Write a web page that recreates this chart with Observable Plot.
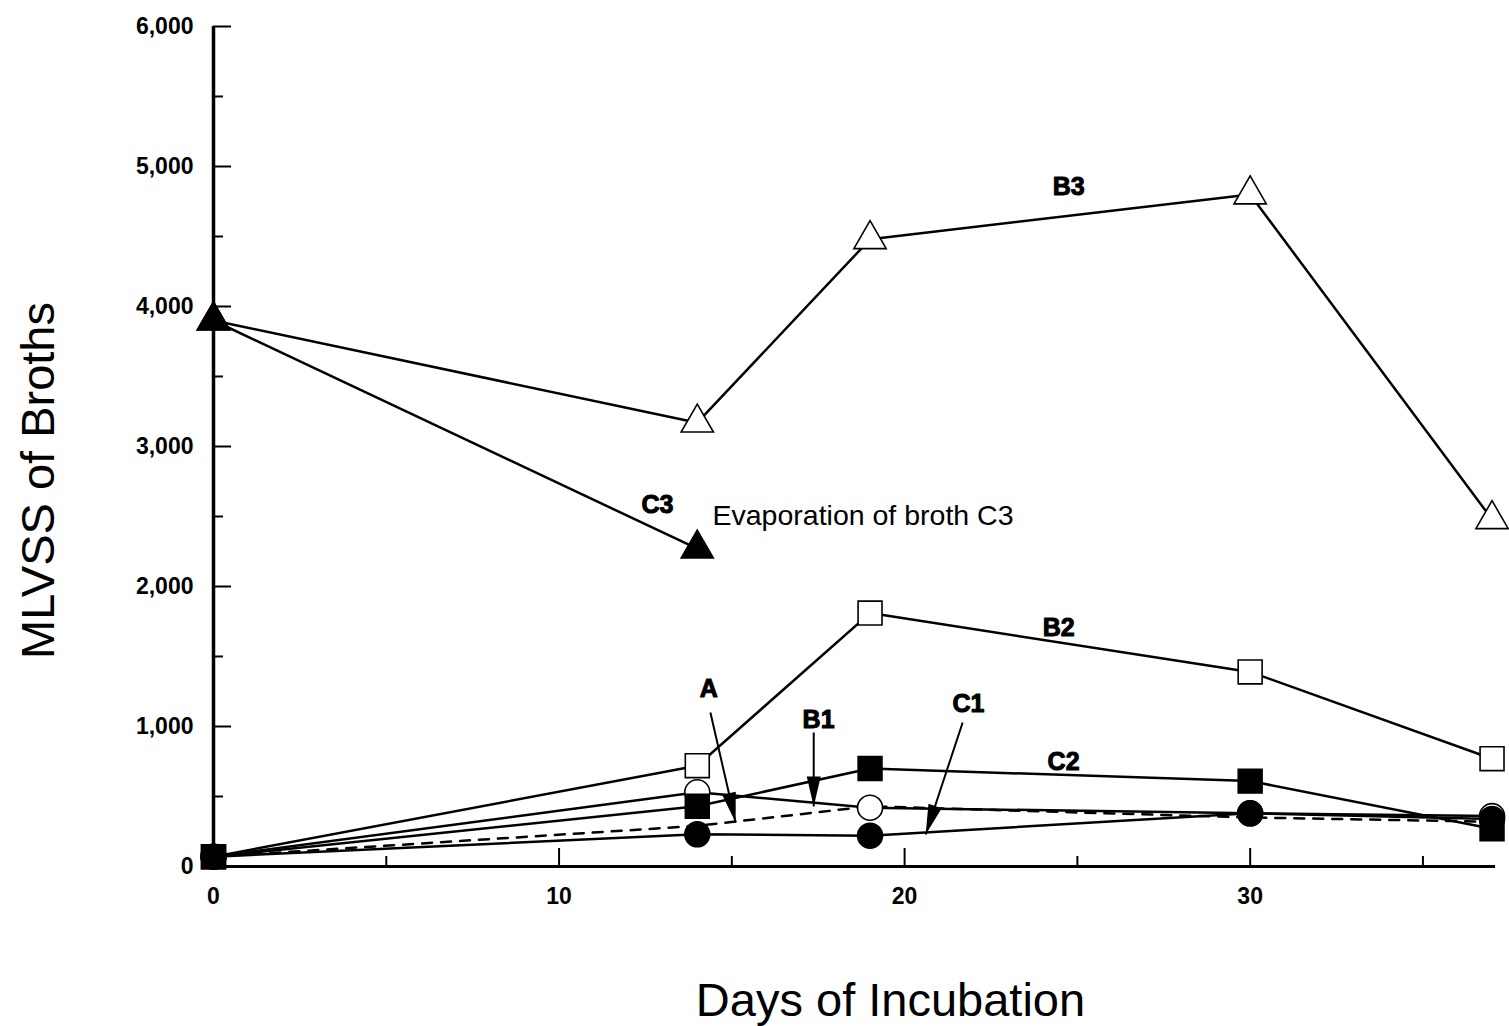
<!DOCTYPE html>
<html>
<head>
<meta charset="utf-8">
<script src="https://cdn.jsdelivr.net/npm/d3@7"></script>
<script src="https://cdn.jsdelivr.net/npm/@observablehq/plot@0.6"></script>
<style>
  html, body { margin: 0; padding: 0; background: #fff; }
  #chart { width: 1509px; height: 1026px; }
</style>
</head>
<body>
<div id="chart"></div>
<script>
// ---- Data ----
const days = [0, 14, 19, 30, 37];
const seriesB3 = [3900, 3170, 4480, 4800, 2480];   // open triangles
const daysC3 = [0, 14];
const seriesC3 = [3900, 2270];                     // filled triangles
const seriesB2 = [70, 720, 1810, 1390, 770];       // open squares
const seriesC2 = [70, 430, 700, 610, 270];         // filled squares
const seriesB1 = [70, 530, 420, 380, 360];         // open circles
const seriesC1 = [70, 230, 220, 380, 340];         // filled circles
const seriesA  = [70, 290, 430, 350, 320];         // dashed line

const yMajorTicks = [0, 1000, 2000, 3000, 4000, 5000, 6000];
const yMinorTicks = [500, 1500, 2500, 3500, 4500, 5500];
const xMajorTicks = [0, 10, 20, 30];
const xMinorTicks = [5, 15, 25, 35];

const xTitle = "Days of Incubation";
const yTitle = "MLVSS of Broths";

// series labels (data coordinates)
const labelText = ["B3", "C3", "B2", "A", "B1", "C1", "C2"];
const labelDay  = [24.75, 12.85, 24.46, 14.33, 17.51, 21.85, 24.6];
const labelVal  = [4857, 2579, 1707, 1271, 1043, 1164, 743];

const noteText = ["Evaporation of broth C3"];
const noteDay = [14.44];
const noteVal = [2507];

// arrows (data coordinates): start -> tip
const arrowName = ["A", "B1", "C1"];
const arrowDay1 = [14.38, 17.37, 21.68];
const arrowVal1 = [1100, 957, 1029];
const arrowDay2 = [15.11, 17.37, 20.61];
const arrowVal2 = [314, 429, 229];

// ---- Build tables ----
const rows = (name, xs, ys) => xs.map((d, i) => ({series: name, day: d, value: ys[i]}));
const B3 = rows("B3", days, seriesB3);
const C3 = rows("C3", daysC3, seriesC3);
const B2 = rows("B2", days, seriesB2);
const C2 = rows("C2", days, seriesC2);
const B1 = rows("B1", days, seriesB1);
const C1 = rows("C1", days, seriesC1);
const A  = rows("A", days, seriesA);
const solid = [...B3, ...C3, ...B2, ...C2, ...B1, ...C1];

const labels = labelText.map((t, i) => ({text: t, day: labelDay[i], value: labelVal[i]}));
const notes = noteText.map((t, i) => ({text: t, day: noteDay[i], value: noteVal[i]}));

const W = 1509, H = 1026;
const mL = 213, mR = 14, mT = 26, mB = 160;
const xMax = 37.1, yMax = 6000;
const kx = (W - mL - mR) / xMax, ky = (H - mT - mB) / yMax;

const arrows = arrowName.map((n, i) => {
  const dx = (arrowDay2[i] - arrowDay1[i]) * kx;
  const dy = -(arrowVal2[i] - arrowVal1[i]) * ky;
  return {name: n, x1: arrowDay1[i], y1: arrowVal1[i], x2: arrowDay2[i], y2: arrowVal2[i],
          angle: Math.atan2(-dx, dy) * 180 / Math.PI};
});

// narrow filled arrow head, tip at origin pointing down
const headSymbol = {
  draw(ctx) {
    ctx.moveTo(0, 0);
    ctx.lineTo(-7, -30);
    ctx.lineTo(7, -30);
    ctx.closePath();
  }
};

const font = "'Liberation Sans', Arial, Helvetica, sans-serif";

const chart = Plot.plot({
  width: W,
  height: H,
  marginLeft: mL,
  marginRight: mR,
  marginTop: mT,
  marginBottom: mB,
  style: {fontFamily: font, fontSize: "23px", background: "#fff", color: "#000", overflow: "visible"},
  x: {domain: [0, xMax]},
  y: {domain: [0, yMax]},
  marks: [
    // axes
    Plot.axisY(yMajorTicks, {tickSize: -18, tickPadding: 38, tickFormat: d3.format(","), fontSize: 23, fontWeight: "bold", strokeWidth: 2, label: null}),
    Plot.axisY(yMinorTicks, {tickSize: -10, tickFormat: () => "", strokeWidth: 2, label: null}),
    Plot.axisX(xMajorTicks, {tickSize: -18, tickPadding: 39, fontSize: 23, fontWeight: "bold", strokeWidth: 2, label: null}),
    Plot.axisX(xMinorTicks, {tickSize: -10, tickFormat: () => "", strokeWidth: 2, label: null}),
    Plot.ruleX([0], {stroke: "#000", strokeWidth: 3.5}),
    Plot.ruleY([0], {stroke: "#000", strokeWidth: 3}),
    // lines
    Plot.line(A, {x: "day", y: "value", stroke: "#000", strokeWidth: 2.5, strokeDasharray: "10,9"}),
    Plot.line(solid, {x: "day", y: "value", z: "series", stroke: "#000", strokeWidth: 2.5}),
    // markers
    Plot.dot(B1, {x: "day", y: "value", r: 12.5, fill: "#fff", stroke: "#000", strokeWidth: 1.6}),
    Plot.dot(C1, {x: "day", y: "value", r: 12.5, fill: "#000", stroke: "#000"}),
    Plot.dot(B2, {x: "day", y: "value", symbol: "square", r: 13.5, fill: "#fff", stroke: "#000", strokeWidth: 1.6}),
    Plot.dot(C2, {x: "day", y: "value", symbol: "square", r: 13.5, fill: "#000", stroke: "#000"}),
    Plot.dot(B3, {x: "day", y: "value", symbol: "triangle", r: 12, fill: "#fff", stroke: "#000", strokeWidth: 1.6}),
    Plot.dot(C3, {x: "day", y: "value", symbol: "triangle", r: 12, fill: "#000", stroke: "#000"}),
    // arrows
    Plot.link(arrows, {x1: "x1", y1: "y1", x2: "x2", y2: "y2", stroke: "#000", strokeWidth: 2}),
    Plot.dot(arrows, {x: "x2", y: "y2", symbol: headSymbol, rotate: "angle", fill: "#000", stroke: "none", r: 5}),
    // labels
    Plot.text(labels, {x: "day", y: "value", text: "text", fontSize: 25, fontWeight: "bold", fill: "#000", stroke: "#000", strokeWidth: 1, textAnchor: "middle"}),
    Plot.text(notes, {x: "day", y: "value", text: "text", fontSize: 28.5, fill: "#000", textAnchor: "start"}),
    // axis titles
    Plot.text([yTitle], {frameAnchor: "left", dx: -175, dy: 34, rotate: -90, fontSize: 47, fill: "#000", textAnchor: "middle", lineAnchor: "middle"}),
    Plot.text([xTitle], {frameAnchor: "bottom", dx: 36, dy: 134, fontSize: 47, fill: "#000", textAnchor: "middle", lineAnchor: "middle"})
  ]
});

document.getElementById("chart").appendChild(chart);
</script>
</body>
</html>
